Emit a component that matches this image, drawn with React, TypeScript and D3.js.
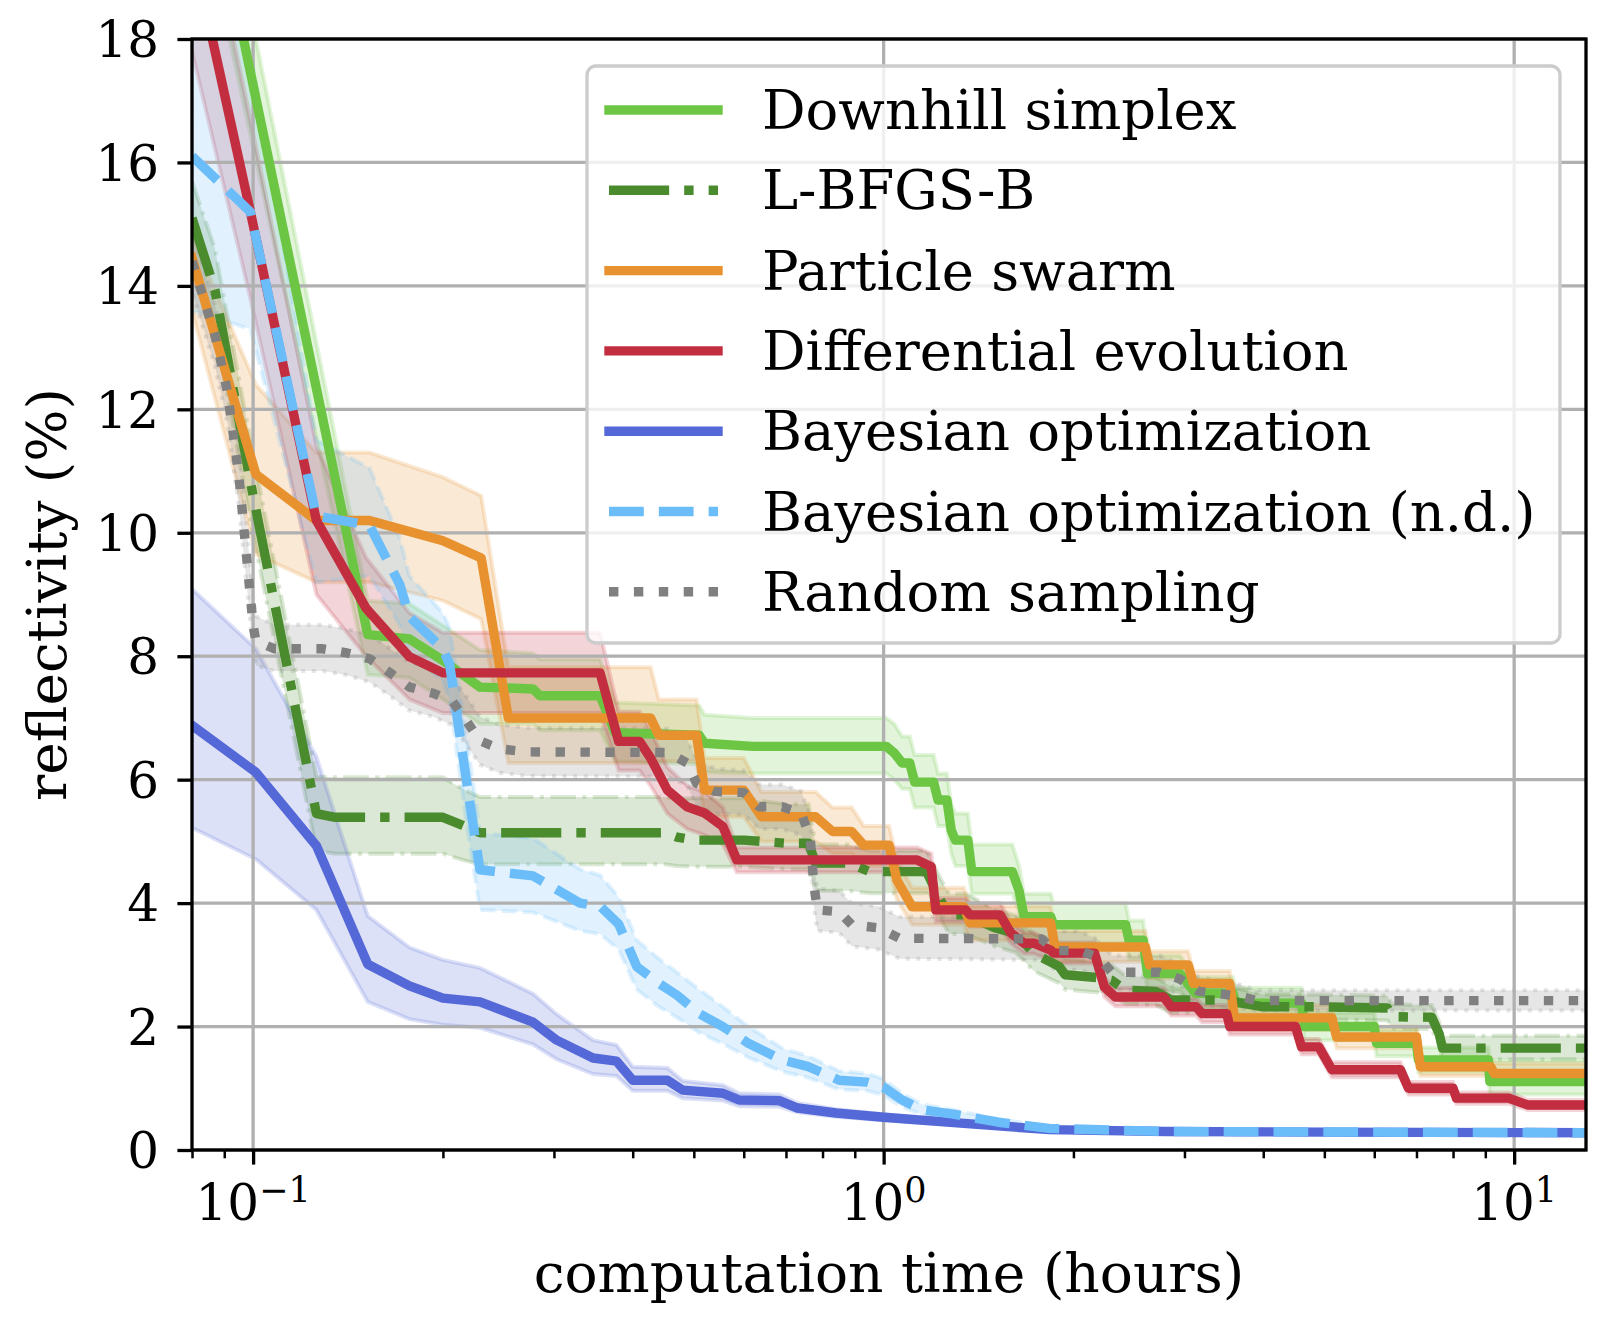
import { useRef, useEffect } from "react";
import * as d3 from "d3";

// each row: [time (hours), mean reflectivity (%), band low, band high]
type Row = [number, number, number, number];

const downhillSimplex: Row[] = [
  [0.08, 22.0, 20.8, 23.2],
  [0.152, 8.35, 7.7, 8.9],
  [0.177, 8.28, 7.65, 8.85],
  [0.2, 7.93, 7.3, 8.5],
  [0.229, 7.5, 6.9, 8.1],
  [0.278, 7.47, 6.9, 8.05],
  [0.285, 7.36, 6.8, 7.95],
  [0.355, 7.36, 6.8, 7.95],
  [0.375, 6.76, 6.3, 7.25],
  [0.51, 6.72, 6.25, 7.2],
  [0.52, 6.59, 6.12, 7.05],
  [0.62, 6.54, 6.1, 7.0],
  [1.01, 6.54, 6.1, 7.0],
  [1.04, 6.43, 6.0, 6.9],
  [1.07, 6.27, 5.85, 6.7],
  [1.1, 6.27, 5.85, 6.7],
  [1.12, 5.96, 5.55, 6.4],
  [1.2, 5.96, 5.55, 6.4],
  [1.22, 5.67, 5.25, 6.1],
  [1.26, 5.67, 5.25, 6.1],
  [1.28, 5.18, 4.8, 5.6],
  [1.3, 5.02, 4.6, 5.45],
  [1.36, 5.02, 4.6, 5.45],
  [1.38, 4.51, 4.15, 4.95],
  [1.6, 4.51, 4.15, 4.95],
  [1.64, 4.2, 3.85, 4.6],
  [1.67, 3.78, 3.45, 4.15],
  [1.84, 3.78, 3.45, 4.15],
  [1.86, 3.65, 3.35, 4.0],
  [2.42, 3.65, 3.35, 4.0],
  [2.45, 3.4, 3.1, 3.72],
  [2.58, 3.4, 3.1, 3.72],
  [2.62, 2.86, 2.58, 3.15],
  [2.95, 2.86, 2.58, 3.15],
  [3.12, 2.54, 2.28, 2.8],
  [3.58, 2.54, 2.28, 2.8],
  [3.62, 2.38, 2.13, 2.63],
  [4.6, 2.38, 2.13, 2.63],
  [4.65, 2.0, 1.78, 2.22],
  [6.0, 2.0, 1.78, 2.22],
  [6.05, 1.73, 1.52, 1.95],
  [7.0, 1.73, 1.52, 1.95],
  [7.05, 1.46, 1.26, 1.66],
  [9.1, 1.46, 1.26, 1.66],
  [9.15, 1.11, 0.9, 1.45],
  [13, 1.11, 0.9, 1.45],
];

const lbfgsb: Row[] = [
  [0.08, 15.1, 14.5, 15.7],
  [0.087, 13.93, 13.3, 14.6],
  [0.099, 10.83, 10.2, 11.5],
  [0.126, 5.45, 4.85, 6.05],
  [0.135, 5.39, 4.8, 6.04],
  [0.2, 5.39, 4.8, 6.04],
  [0.215, 5.26, 4.7, 5.85],
  [0.229, 5.14, 4.63, 5.72],
  [0.45, 5.14, 4.63, 5.72],
  [0.47, 5.07, 4.6, 5.7],
  [0.5, 5.02, 4.59, 5.7],
  [0.6, 5.02, 4.59, 5.7],
  [0.7, 4.97, 4.55, 5.6],
  [0.76, 4.97, 4.55, 5.6],
  [0.78, 4.65, 4.2, 4.95],
  [0.88, 4.65, 4.2, 4.95],
  [0.95, 4.51, 4.16, 4.85],
  [1.17, 4.51, 4.16, 4.85],
  [1.23, 4.05, 3.75, 4.4],
  [1.27, 3.81, 3.5, 4.15],
  [1.35, 3.81, 3.5, 4.15],
  [1.5, 3.6, 3.3, 3.9],
  [1.62, 3.51, 3.2, 3.8],
  [1.73, 3.19, 2.9, 3.5],
  [1.9, 2.97, 2.7, 3.25],
  [1.94, 2.84, 2.6, 3.1],
  [2.2, 2.79, 2.55, 3.05],
  [2.3, 2.75, 2.5, 3.0],
  [2.42, 2.59, 2.37, 2.82],
  [2.7, 2.57, 2.35, 2.8],
  [2.86, 2.43, 2.22, 2.65],
  [3.5, 2.43, 2.22, 2.65],
  [3.7, 2.38, 2.18, 2.6],
  [4.0, 2.32, 2.12, 2.52],
  [4.9, 2.32, 2.12, 2.52],
  [6.3, 2.3, 2.1, 2.5],
  [6.4, 2.16, 1.97, 2.36],
  [7.4, 2.15, 1.96, 2.35],
  [7.6, 1.89, 1.7, 2.08],
  [7.7, 1.65, 1.47, 1.85],
  [13, 1.65, 1.47, 1.85],
];

const particleSwarm: Row[] = [
  [0.08, 14.46, 13.6, 14.8],
  [0.101, 10.95, 9.65, 12.4],
  [0.126, 10.2, 9.2, 11.3],
  [0.153, 10.2, 9.2, 11.3],
  [0.2, 9.87, 8.9, 10.9],
  [0.23, 9.59, 8.6, 10.6],
  [0.254, 7.0, 6.27, 7.82],
  [0.427, 7.0, 6.27, 7.82],
  [0.44, 6.72, 6.3, 7.3],
  [0.505, 6.72, 6.3, 7.3],
  [0.52, 5.83, 5.4, 6.35],
  [0.6, 5.83, 5.4, 6.35],
  [0.64, 5.4, 5.0, 5.8],
  [0.78, 5.4, 5.0, 5.8],
  [0.83, 5.16, 4.8, 5.55],
  [0.89, 5.16, 4.8, 5.55],
  [0.93, 4.94, 4.6, 5.25],
  [1.02, 4.94, 4.6, 5.25],
  [1.05, 4.37, 4.05, 4.7],
  [1.11, 3.94, 3.65, 4.25],
  [1.34, 3.94, 3.65, 4.25],
  [1.37, 3.68, 3.4, 3.95],
  [1.84, 3.68, 3.4, 3.95],
  [1.87, 3.29, 3.05, 3.55],
  [2.6, 3.29, 3.05, 3.55],
  [2.64, 3.0, 2.78, 3.22],
  [3.04, 3.0, 2.78, 3.22],
  [3.1, 2.7, 2.5, 2.9],
  [3.54, 2.7, 2.5, 2.9],
  [3.6, 2.14, 1.95, 2.35],
  [5.14, 2.14, 1.95, 2.35],
  [5.23, 1.83, 1.65, 2.0],
  [7.0, 1.83, 1.65, 2.0],
  [7.1, 1.35, 1.2, 1.5],
  [9.18, 1.35, 1.2, 1.5],
  [9.3, 1.24, 1.1, 1.4],
  [13, 1.24, 1.1, 1.4],
];

const diffEvolution: Row[] = [
  [0.08, 19.5, 17.8, 21.2],
  [0.099, 15.2, 13.8, 16.7],
  [0.126, 10.2, 9.0, 11.4],
  [0.151, 8.78, 8.0, 9.6],
  [0.177, 7.99, 7.3, 8.7],
  [0.2, 7.73, 7.08, 8.38],
  [0.355, 7.73, 7.08, 8.38],
  [0.38, 6.62, 6.15, 7.1],
  [0.41, 6.62, 6.15, 7.1],
  [0.427, 6.35, 5.9, 6.8],
  [0.454, 5.83, 5.45, 6.2],
  [0.488, 5.56, 5.2, 5.9],
  [0.52, 5.46, 5.1, 5.8],
  [0.556, 5.24, 4.95, 5.55],
  [0.585, 4.7, 4.5, 4.9],
  [1.13, 4.7, 4.5, 4.9],
  [1.19, 4.59, 4.4, 4.8],
  [1.21, 3.89, 3.7, 4.08],
  [1.35, 3.89, 3.7, 4.08],
  [1.37, 3.81, 3.62, 4.0],
  [1.53, 3.81, 3.62, 4.0],
  [1.59, 3.52, 3.35, 3.7],
  [1.67, 3.35, 3.18, 3.52],
  [1.73, 3.35, 3.18, 3.52],
  [1.84, 3.24, 3.07, 3.4],
  [1.86, 3.19, 3.02, 3.36],
  [2.16, 3.19, 3.02, 3.36],
  [2.24, 2.64, 2.48, 2.8],
  [2.33, 2.48, 2.33, 2.63],
  [2.78, 2.48, 2.33, 2.63],
  [2.86, 2.32, 2.18, 2.46],
  [3.13, 2.32, 2.18, 2.46],
  [3.2, 2.21, 2.07, 2.35],
  [3.5, 2.21, 2.07, 2.35],
  [3.54, 2.0, 1.87, 2.13],
  [4.5, 2.0, 1.87, 2.13],
  [4.6, 1.67, 1.55, 1.8],
  [4.9, 1.67, 1.55, 1.8],
  [5.14, 1.3, 1.18, 1.42],
  [6.6, 1.3, 1.18, 1.42],
  [6.8, 1.0, 0.9, 1.1],
  [8.0, 1.0, 0.9, 1.1],
  [8.1, 0.84, 0.75, 0.93],
  [9.8, 0.84, 0.75, 0.93],
  [10.5, 0.73, 0.65, 0.81],
  [13, 0.73, 0.65, 0.81],
];

const bayesOpt: Row[] = [
  [0.08, 6.88, 5.22, 9.09],
  [0.101, 6.12, 4.71, 8.12],
  [0.126, 4.93, 3.89, 6.37],
  [0.152, 3.01, 2.4, 3.79],
  [0.177, 2.66, 2.12, 3.28],
  [0.2, 2.46, 2.03, 3.08],
  [0.229, 2.4, 1.98, 2.95],
  [0.278, 2.07, 1.71, 2.53],
  [0.303, 1.78, 1.47, 2.2],
  [0.346, 1.49, 1.23, 1.78],
  [0.377, 1.44, 1.2, 1.7],
  [0.4, 1.13, 0.96, 1.35],
  [0.454, 1.13, 0.96, 1.33],
  [0.48, 0.97, 0.84, 1.12],
  [0.556, 0.92, 0.8, 1.05],
  [0.59, 0.81, 0.71, 0.92],
  [0.683, 0.8, 0.7, 0.9],
  [0.73, 0.68, 0.61, 0.76],
  [0.84, 0.6, 0.54, 0.66],
  [1.0, 0.53, 0.48, 0.58],
  [1.39, 0.42, 0.39, 0.45],
  [1.83, 0.33, 0.31, 0.35],
  [2.8, 0.3, 0.28, 0.32],
  [5.0, 0.29, 0.27, 0.31],
  [13, 0.28, 0.26, 0.3],
];

const bayesOptNd: Row[] = [
  [0.08, 16.1, 13.6, 18.6],
  [0.099, 15.2, 13.3, 17.8],
  [0.126, 10.27, 9.2, 11.5],
  [0.153, 10.12, 9.3, 11.05],
  [0.171, 9.15, 8.5, 9.9],
  [0.177, 8.64, 8.05, 9.3],
  [0.2, 8.12, 7.6, 8.7],
  [0.205, 7.86, 7.3, 8.45],
  [0.218, 5.98, 5.3, 6.7],
  [0.229, 4.54, 3.89, 5.14],
  [0.278, 4.44, 3.85, 5.05],
  [0.33, 4.0, 3.55, 4.55],
  [0.355, 3.95, 3.5, 4.45],
  [0.38, 3.66, 3.25, 4.1],
  [0.406, 2.97, 2.6, 3.4],
  [0.44, 2.7, 2.32, 3.1],
  [0.47, 2.51, 2.15, 2.88],
  [0.51, 2.21, 1.9, 2.6],
  [0.556, 2.0, 1.72, 2.32],
  [0.61, 1.73, 1.5, 2.0],
  [0.69, 1.46, 1.27, 1.65],
  [0.76, 1.35, 1.17, 1.52],
  [0.85, 1.13, 0.98, 1.28],
  [0.94, 1.1, 0.96, 1.24],
  [1.0, 1.02, 0.89, 1.15],
  [1.07, 0.81, 0.7, 0.92],
  [1.15, 0.65, 0.57, 0.74],
  [1.29, 0.58, 0.51, 0.65],
  [1.52, 0.45, 0.4, 0.5],
  [1.83, 0.35, 0.32, 0.38],
  [2.8, 0.3, 0.28, 0.32],
  [13, 0.28, 0.26, 0.3],
];

const randomSampling: Row[] = [
  [0.08, 14.4, 13.9, 14.9],
  [0.087, 13.2, 12.7, 13.7],
  [0.091, 12.3, 11.8, 12.8],
  [0.095, 10.9, 10.4, 11.4],
  [0.1, 8.5, 8.1, 8.95],
  [0.101, 8.25, 7.85, 8.65],
  [0.108, 8.12, 7.76, 8.51],
  [0.129, 8.12, 7.76, 8.51],
  [0.14, 8.06, 7.7, 8.45],
  [0.153, 7.96, 7.58, 8.35],
  [0.165, 7.73, 7.35, 8.12],
  [0.177, 7.5, 7.12, 7.9],
  [0.193, 7.4, 7.02, 7.8],
  [0.207, 7.27, 6.88, 7.66],
  [0.218, 6.95, 6.56, 7.34],
  [0.229, 6.63, 6.24, 7.02],
  [0.246, 6.5, 6.11, 6.89],
  [0.272, 6.45, 6.06, 6.84],
  [0.454, 6.44, 6.05, 6.83],
  [0.488, 6.27, 5.9, 6.65],
  [0.505, 5.94, 5.57, 6.32],
  [0.54, 5.81, 5.45, 6.18],
  [0.6, 5.79, 5.43, 6.15],
  [0.635, 5.56, 5.2, 5.92],
  [0.69, 5.56, 5.2, 5.92],
  [0.74, 5.46, 5.1, 5.82],
  [0.765, 5.05, 4.7, 5.4],
  [0.775, 4.3, 3.95, 4.65],
  [0.785, 3.89, 3.55, 4.24],
  [0.85, 3.86, 3.52, 4.2],
  [0.89, 3.65, 3.3, 4.0],
  [0.98, 3.6, 3.25, 3.95],
  [1.06, 3.43, 3.1, 3.78],
  [1.78, 3.42, 3.08, 3.76],
  [1.87, 3.23, 2.92, 3.54],
  [2.05, 3.23, 2.92, 3.54],
  [2.2, 3.11, 2.82, 3.4],
  [2.3, 2.88, 2.6, 3.15],
  [2.74, 2.88, 2.6, 3.15],
  [2.95, 2.77, 2.52, 3.02],
  [3.16, 2.57, 2.35, 2.8],
  [3.35, 2.54, 2.33, 2.76],
  [3.68, 2.49, 2.3, 2.68],
  [3.9, 2.42, 2.26, 2.59],
  [13, 2.42, 2.26, 2.59],
];

const SERIES_LABELS = [
  "Downhill simplex",
  "L-BFGS-B",
  "Particle swarm",
  "Differential evolution",
  "Bayesian optimization",
  "Bayesian optimization (n.d.)",
  "Random sampling",
];
const SERIES_DATA = [
  downhillSimplex,
  lbfgsb,
  particleSwarm,
  diffEvolution,
  bayesOpt,
  bayesOptNd,
  randomSampling,
];

const Y_TICKS = [0, 2, 4, 6, 8, 10, 12, 14, 16, 18];
const X_MAJOR = [0.1, 1, 10];
const X_EXPONENTS = ["\u22121", "0", "1"];
const X_MINOR = [0.08, 0.09, 0.2, 0.3, 0.4, 0.5, 0.6, 0.7, 0.8, 0.9, 2, 3, 4, 5, 6, 7, 8, 9];

// styles (dash patterns in units of line width, like matplotlib)
const COLORS = ["#6cc644", "#4a8b2d", "#e8922f", "#c22e40", "#5468d8", "#6bbdfa", "#808080"];
const DASHES: number[][] = [
  [],
  [6.4, 1.6, 1, 1.6],
  [],
  [],
  [],
  [3.7, 1.6],
  [1, 1.65],
];

const W = 1613;
const H = 1317;
const FONT = "DejaVu Serif";
const LW = 9.4;

export default function App() {
  const svgRef = useRef<SVGSVGElement>(null);

  useEffect(() => {
    if (!svgRef.current) return;
    const svg = d3.select(svgRef.current);
    svg.selectAll("*").remove();

    const m = { left: 192, right: 1586, top: 39, bottom: 1150 };
    const x = d3.scaleLog().domain([0.08, 13]).range([m.left, m.right]);
    const y = d3.scaleLinear().domain([0, 18]).range([m.bottom, m.top]);

    svg
      .append("defs")
      .append("clipPath")
      .attr("id", "plot-clip")
      .append("rect")
      .attr("x", m.left)
      .attr("y", m.top)
      .attr("width", m.right - m.left)
      .attr("height", m.bottom - m.top);

    const dash = (i: number, w: number) =>
      DASHES[i].length ? DASHES[i].map((d) => d * w).join(",") : null;

    // bands first (they sit under the grid and lines)
    const area = d3
      .area<Row>()
      .x((d) => x(d[0]))
      .y0((d) => y(d[2]))
      .y1((d) => y(d[3]));

    const bands = svg.append("g").attr("clip-path", "url(#plot-clip)");
    SERIES_DATA.forEach((rows, i) => {
      bands
        .append("path")
        .attr("d", area(rows)!)
        .attr("fill", COLORS[i])
        .attr("fill-opacity", 0.2)
        .attr("stroke", COLORS[i])
        .attr("stroke-opacity", 0.2)
        .attr("stroke-width", 4)
        .attr("stroke-dasharray", dash(i, 4));
    });

    // grid
    const grid = svg.append("g").attr("stroke", "#b0b0b0").attr("stroke-width", 3.3);
    X_MAJOR.forEach((t) => {
      grid.append("line").attr("x1", x(t)).attr("x2", x(t)).attr("y1", m.top).attr("y2", m.bottom);
    });
    Y_TICKS.forEach((v) => {
      grid.append("line").attr("x1", m.left).attr("x2", m.right).attr("y1", y(v)).attr("y2", y(v));
    });

    // mean curves
    const line = d3
      .line<Row>()
      .x((d) => x(d[0]))
      .y((d) => y(d[1]));

    const lines = svg.append("g").attr("clip-path", "url(#plot-clip)");
    SERIES_DATA.forEach((rows, i) => {
      lines
        .append("path")
        .attr("d", line(rows)!)
        .attr("fill", "none")
        .attr("stroke", COLORS[i])
        .attr("stroke-width", LW)
        .attr("stroke-linejoin", "round")
        .attr("stroke-linecap", DASHES[i].length ? "butt" : "square")
        .attr("stroke-dasharray", dash(i, LW));
    });

    // axes
    const xMinor = svg
      .append("g")
      .attr("transform", `translate(0,${m.bottom})`)
      .call(d3.axisBottom(x).tickValues(X_MINOR).tickSize(8.3).tickSizeOuter(0).tickFormat(() => ""));
    xMinor.selectAll(".tick line").attr("stroke", "#000").attr("stroke-width", 2.5);

    const xMajor = svg
      .append("g")
      .attr("transform", `translate(0,${m.bottom})`)
      .call(d3.axisBottom(x).tickValues(X_MAJOR).tickSize(14.6).tickSizeOuter(0).tickFormat(() => ""));
    xMajor.selectAll(".tick line").attr("stroke", "#000").attr("stroke-width", 3.3);

    const yAxis = svg
      .append("g")
      .attr("transform", `translate(${m.left},0)`)
      .call(d3.axisLeft(y).tickValues(Y_TICKS).tickSize(14.6).tickSizeOuter(0).tickFormat(() => ""));
    yAxis.selectAll(".tick line").attr("stroke", "#000").attr("stroke-width", 3.3);

    svg.selectAll(".domain").remove();

    svg
      .append("rect")
      .attr("x", m.left)
      .attr("y", m.top)
      .attr("width", m.right - m.left)
      .attr("height", m.bottom - m.top)
      .attr("fill", "none")
      .attr("stroke", "#000")
      .attr("stroke-width", 3.3);

    // tick labels
    Y_TICKS.forEach((v) => {
      svg
        .append("text")
        .attr("x", m.left - 33)
        .attr("y", y(v) + 18.2)
        .attr("text-anchor", "end")
        .attr("font-family", FONT)
        .attr("font-size", 50)
        .text(v);
    });

    X_MAJOR.forEach((t, i) => {
      const tx = svg
        .append("text")
        .attr("x", x(t))
        .attr("y", m.bottom + 70)
        .attr("text-anchor", "middle")
        .attr("font-family", FONT)
        .attr("font-size", 50);
      tx.append("tspan").text("10");
      tx.append("tspan").attr("dy", -18).attr("font-size", 35).text(X_EXPONENTS[i]);
    });

    // axis titles
    svg
      .append("text")
      .attr("x", (m.left + m.right) / 2)
      .attr("y", 1292)
      .attr("text-anchor", "middle")
      .attr("font-family", FONT)
      .attr("font-size", 55)
      .text("computation time (hours)");

    svg
      .append("text")
      .attr("transform", `translate(66,${(m.top + m.bottom) / 2}) rotate(-90)`)
      .attr("text-anchor", "middle")
      .attr("font-family", FONT)
      .attr("font-size", 55)
      .text("reflectivity (%)");

    // legend
    const legend = svg.append("g");
    legend
      .append("rect")
      .attr("x", 587)
      .attr("y", 66)
      .attr("width", 1560 - 587)
      .attr("height", 643 - 66)
      .attr("rx", 9)
      .attr("fill", "#fff")
      .attr("fill-opacity", 0.8)
      .attr("stroke", "#cccccc")
      .attr("stroke-width", 3.3);

    SERIES_LABELS.forEach((label, i) => {
      const cy = 110 + i * 80.3;
      legend
        .append("line")
        .attr("x1", 609)
        .attr("x2", 718)
        .attr("y1", cy)
        .attr("y2", cy)
        .attr("stroke", COLORS[i])
        .attr("stroke-width", LW)
        .attr("stroke-linecap", DASHES[i].length ? "butt" : "square")
        .attr("stroke-dasharray", dash(i, LW));
      legend
        .append("text")
        .attr("x", 762)
        .attr("y", cy + 19)
        .attr("font-family", FONT)
        .attr("font-size", 54.4)
        .text(label);
    });
  }, []);

  return (
    <svg
      ref={svgRef}
      width={W}
      height={H}
      viewBox={`0 0 ${W} ${H}`}
      style={{ position: "absolute", left: 0, top: 0, background: "#fff" }}
    />
  );
}
